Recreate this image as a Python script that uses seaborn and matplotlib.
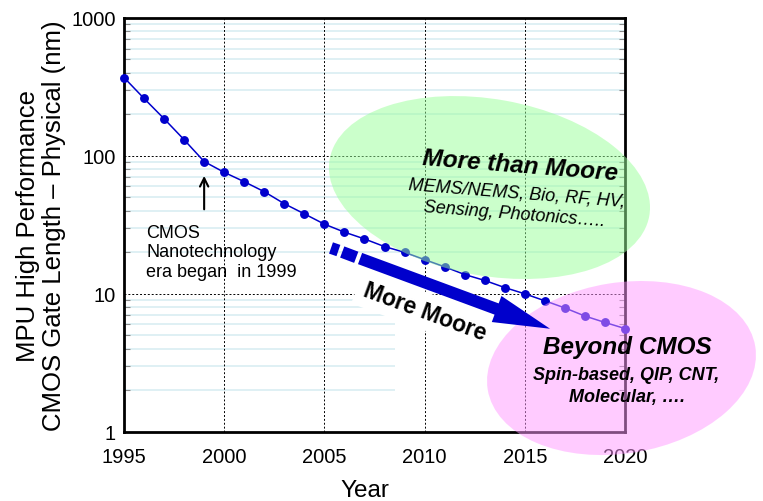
import numpy as np
import pandas as pd
import seaborn as sns
import matplotlib.pyplot as plt
from matplotlib.patches import Ellipse, FancyArrowPatch
from matplotlib.transforms import Affine2D

# ITRS-style roadmap: physical gate length of high-performance MPUs
years = list(range(1995, 2021))
gate_length_nm = [370, 261, 186, 131, 91, 76, 65, 55, 45, 38, 32, 28, 25, 22,
                  20, 17.7, 15.7, 13.8, 12.5, 11.1, 10, 8.9, 7.9, 6.9, 6.2, 5.6]
x_ticks = [1995, 2000, 2005, 2010, 2015, 2020]
y_ticks = [1, 10, 100, 1000]
y_tick_labels = ["1", "10", "100", "1000"]

sns.set_theme(style="white")
plt.rcParams["font.family"] = ["Liberation Sans", "DejaVu Sans"]
plt.rcParams["text.color"] = "black"
plt.rcParams["axes.labelcolor"] = "black"

BLUE = "#0000CC"

fig = plt.figure(figsize=(7.63, 5.02), dpi=100)
ax_rect = [0.1625, 0.138, 0.6566, 0.8242]
ax = fig.add_axes(ax_rect)

# pixel-sized units measured from the lower-left corner of the axes
ax_w_px = ax_rect[2] * 763
ax_h_px = ax_rect[3] * 502
px_in_axes = Affine2D().scale(1 / ax_w_px, 1 / ax_h_px) + ax.transAxes

df = pd.DataFrame({"year": years, "length": gate_length_nm})
sns.lineplot(data=df, x="year", y="length", ax=ax, color=BLUE, lw=1.1,
             marker="o", markersize=6.4, markeredgewidth=0, zorder=3,
             clip_on=False)

ax.set_yscale("log")
ax.set_xlim(1995, 2020)
ax.set_ylim(1, 1000)
ax.set_xticks(x_ticks)
ax.set_xticklabels([str(t) for t in x_ticks])
ax.set_yticks(y_ticks)
ax.set_yticklabels(y_tick_labels)

# light minor grid (the lowest decade only runs part way across)
for k, x_end in [(1, 2008.5), (10, 2020), (100, 2020)]:
    vals = [m * k for m in range(2, 10)]
    ax.hlines(vals, 1995, x_end, colors="#d6ecf1", lw=1.1, zorder=0.5)

# dotted major grid
for xv in x_ticks[1:-1]:
    ax.axvline(xv, color="black", lw=0.7, ls=(0, (2, 2)), zorder=1)
for yv in y_ticks[1:-1]:
    ax.axhline(yv, color="black", lw=0.7, ls=(0, (2, 2)), zorder=1)

for s in ax.spines.values():
    s.set_color("black")
    s.set_linewidth(2)
    s.set_visible(True)

ax.tick_params(which="major", length=0, labelsize=14.5, colors="black")
ax.tick_params(axis="x", which="major", pad=11)
ax.tick_params(axis="y", which="major", pad=6)
ax.tick_params(axis="y", which="minor", direction="in", length=4, width=0.8,
               color="#8a8a8a", left=True, right=True)

ax.set_xlabel("Year", fontsize=17.5)
ax.set_ylabel("MPU High Performance\nCMOS Gate Length \u2013 Physical (nm)",
              fontsize=18.5, linespacing=1.1)
ax.xaxis.set_label_coords(0.481, -0.115)
ax.yaxis.set_label_coords(-0.115, 0.5)

# annotation for 1999
ax.annotate("", xy=(1999, 71.6), xytext=(1999, 41),
            arrowprops=dict(arrowstyle="->,head_length=0.5,head_width=0.25",
                            color="black", lw=1.5, shrinkA=0, shrinkB=0))
ax.text(1996.1, 20.1, "CMOS\nNanotechnology\nera began  in 1999",
        ha="left", va="center", fontsize=13, linespacing=1.2)

# translucent, slightly tilted regions laid over the chart
ax.add_patch(Ellipse((365.5, 244.2), 324.6, 176.6, angle=-10.1,
                     transform=px_in_axes, facecolor=(0.6, 1.0, 0.6),
                     alpha=0.5, edgecolor="none", zorder=5, clip_on=False))
ax.add_patch(Ellipse((497.5, 63.7), 271.0, 170.8, angle=9.15,
                     transform=px_in_axes, facecolor=(1.0, 0.6, 1.0),
                     alpha=0.5, edgecolor="none", zorder=5, clip_on=False))

ax.text(0.790, 0.643, "More than Moore", transform=ax.transAxes, ha="center",
        va="center", fontsize=17.5, fontweight="bold", fontstyle="italic",
        rotation=-4.5, rotation_mode="anchor", zorder=6)
ax.text(0.784, 0.579, "MEMS/NEMS, Bio, RF, HV,", transform=ax.transAxes,
        ha="center", va="center", fontsize=13, fontstyle="italic",
        rotation=-4.5, rotation_mode="anchor", zorder=6)
ax.text(0.780, 0.526, "Sensing, Photonics\u2026..", transform=ax.transAxes,
        ha="center", va="center", fontsize=13, fontstyle="italic",
        rotation=-4.5, rotation_mode="anchor", zorder=6)

ax.text(1.005, 0.205, "Beyond CMOS", transform=ax.transAxes, ha="center",
        va="center", fontsize=17.5, fontweight="bold", fontstyle="italic",
        zorder=6)
ax.text(1.003, 0.139, "Spin-based, QIP, CNT,", transform=ax.transAxes,
        ha="center", va="center", fontsize=13, fontweight="bold",
        fontstyle="italic", zorder=6)
ax.text(1.004, 0.084, "Molecular, \u2026.", transform=ax.transAxes,
        ha="center", va="center", fontsize=13, fontweight="bold",
        fontstyle="italic", zorder=6)

# "More Moore" trend arrow with its dashed lead-in
ax.plot([2005.33, 2005.70], [21.5, 20.6], color=BLUE, lw=8.6,
        solid_capstyle="butt", zorder=7)
ax.plot([2005.89, 2006.59], [20.1, 18.4], color=BLUE, lw=8.6,
        solid_capstyle="butt", zorder=7)
ax.add_patch(FancyArrowPatch(
    (2006.78, 18.02), (2016.26, 5.58),
    arrowstyle="simple,head_length=4.1,head_width=2.0,tail_width=0.86",
    mutation_scale=10, color=BLUE, lw=0, shrinkA=0, shrinkB=0, zorder=7))
ax.text(2010.0, 7.5, "More Moore", ha="center", va="center", fontsize=16.5,
        fontweight="bold", rotation=-20.3, rotation_mode="anchor", zorder=6,
        bbox=dict(boxstyle="square,pad=0.3", facecolor="white",
                  edgecolor="none"))

fig.savefig("out.png", dpi=100)
